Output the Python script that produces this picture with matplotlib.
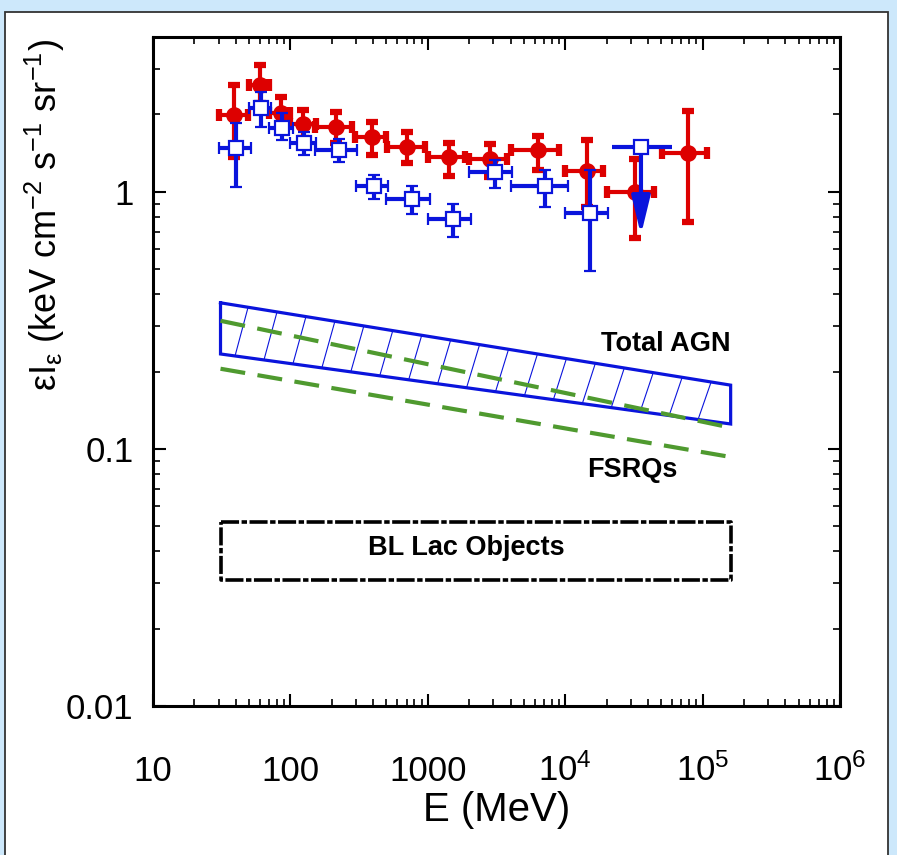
import numpy as np
import matplotlib
matplotlib.use("Agg")
import matplotlib.pyplot as plt
from matplotlib import font_manager
from matplotlib.patches import Rectangle
from matplotlib.ticker import NullFormatter, LogLocator

# ---- EGRET points (red, filled circles) ----
egret_E = [39, 60, 85, 124, 215, 393, 706, 1426, 2836, 6340, 14430, 32200, 78300]
egret_Elo = [30, 50, 70, 100, 150, 295, 505, 1000, 2000, 4030, 10000, 20000, 50700]
egret_Ehi = [49, 70, 99, 153, 280, 496, 954, 1866, 3770, 9020, 18800, 44000, 108000]
egret_I = [1.99, 2.61, 2.03, 1.84, 1.79, 1.64, 1.50, 1.36, 1.34, 1.45, 1.21, 1.00, 1.41]
egret_Ilo = [1.37, 2.22, 1.74, 1.62, 1.55, 1.39, 1.29, 1.15, 1.14, 1.22, 0.875, 0.66, 0.76]
egret_Ihi = [2.61, 3.12, 2.34, 2.08, 2.05, 1.87, 1.71, 1.55, 1.54, 1.65, 1.59, 1.34, 2.07]

# ---- re-analysis points (blue, open squares) ----
strong_E = [40, 61, 87, 126, 226, 405, 767, 1525, 3080, 7130, 15140]
strong_Elo = [30, 50, 70, 100, 150, 300, 500, 1000, 2000, 4030, 10000]
strong_Ehi = [52, 72, 104, 153, 305, 510, 1040, 2070, 4130, 10400, 20500]
strong_I = [1.48, 2.12, 1.77, 1.55, 1.46, 1.05, 0.94, 0.785, 1.19, 1.05, 0.83]
strong_Ilo = [1.04, 1.79, 1.59, 1.39, 1.31, 0.94, 0.82, 0.67, 1.03, 0.875, 0.49]
strong_Ihi = [1.85, 2.45, 2.03, 1.71, 1.61, 1.16, 1.05, 0.90, 1.33, 1.22, 1.22]

# upper limit point
ul_E = [35600]
ul_Elo = [22000]
ul_Ehi = [60000]
ul_I = [1.50]
ul_tip = [0.68]

# ---- model bands ----
band_E = [31, 1.6e5]
agn_hi = [0.370, 0.177]
agn_lo = [0.234, 0.125]
fsrq_hi = [0.315, 0.121]
fsrq_lo = [0.205, 0.093]
bllac_hi = [0.052, 0.052]
bllac_lo = [0.031, 0.031]

xtick_vals = [10, 100, 1000, 1e4, 1e5, 1e6]
xtick_labels = ['10', '100', '1000', '$10^4$', '$10^5$', '$10^6$']
ytick_vals = [0.01, 0.1, 1]
ytick_labels = ['0.01', '0.1', '1']

red = '#dd0000'
blue = '#0a14dc'
green = '#4f9a2f'

names = set(f.name for f in font_manager.fontManager.ttflist)
narrow = 'Liberation Sans Narrow' if 'Liberation Sans Narrow' in names else 'Liberation Sans'
plt.rcParams['font.family'] = [narrow, 'DejaVu Sans']
plt.rcParams['mathtext.fontset'] = 'custom'
plt.rcParams['mathtext.rm'] = narrow
plt.rcParams['mathtext.it'] = narrow

fig = plt.figure(figsize=(8.97, 8.55), dpi=100)
fig.patch.set_facecolor('#cde8fb')
fig.patches.append(Rectangle((5/897, -0.01), 883/897, (855-12)/855 + 0.01,
                             transform=fig.transFigure, facecolor='white',
                             edgecolor='#333333', lw=1.3, zorder=-10))

ax = fig.add_axes([153/897, 1-706/855, 687/897, 669/855])
ax.set_xscale('log')
ax.set_yscale('log')
ax.set_xlim(10, 1e6)
ax.set_ylim(0.01, 4)

# total AGN band + hatching
ax.plot([band_E[0], band_E[1], band_E[1], band_E[0], band_E[0]],
        [agn_hi[0], agn_hi[1], agn_lo[1], agn_lo[0], agn_hi[0]],
        color=blue, lw=2.3, solid_joinstyle='miter')
lx = np.log10(band_E)
for lb in np.linspace(1.597, 4.967, 17):
    lt = lb + 0.095
    yb = 10**np.interp(lb, lx, np.log10(agn_lo))
    yt = 10**np.interp(lt, lx, np.log10(agn_hi))
    ax.plot([10**lb, 10**lt], [yb, yt], color=blue, lw=0.8)

# FSRQ dashed lines
for yy in (fsrq_hi, fsrq_lo):
    ax.plot(band_E, yy, color=green, lw=3, dashes=(6, 3))

# BL Lac box
ax.plot([band_E[0], band_E[1], band_E[1], band_E[0], band_E[0]],
        [bllac_hi[0], bllac_hi[1], bllac_lo[1], bllac_lo[0], bllac_hi[0]],
        color='black', lw=2.6, linestyle=(0, (5, 0.7, 1.5, 0.7)))

# data points
E = np.array(egret_E); I = np.array(egret_I)
ax.errorbar(E, I, xerr=[E - np.array(egret_Elo), np.array(egret_Ehi) - E],
            yerr=[I - np.array(egret_Ilo), np.array(egret_Ihi) - I],
            fmt='o', color=red, ms=11, elinewidth=3, capsize=4, capthick=4.5, zorder=3)

E = np.array(strong_E); I = np.array(strong_I)
ax.errorbar(E, I, xerr=[E - np.array(strong_Elo), np.array(strong_Ehi) - E],
            yerr=[I - np.array(strong_Ilo), np.array(strong_Ihi) - I],
            fmt='s', color=blue, mfc='white', mec=blue, mew=1.6, ms=10.5,
            elinewidth=3, capsize=4, capthick=4.5, zorder=4)

E = np.array(ul_E); I = np.array(ul_I)
ax.errorbar(E, I, xerr=[E - np.array(ul_Elo), np.array(ul_Ehi) - E],
            fmt='none', ecolor=blue, elinewidth=3, capsize=0, zorder=4)
ax.annotate('', xy=(ul_E[0], ul_tip[0]), xytext=(ul_E[0], ul_I[0]),
            arrowprops=dict(arrowstyle='-|>,head_length=1.15,head_width=0.28',
                            mutation_scale=20, color=blue, lw=3,
                            shrinkA=0, shrinkB=0), zorder=4)
ax.plot(ul_E, ul_I, 's', mfc='white', mec=blue, mew=1.6, ms=10.5, zorder=5)

# labels inside
ax.text(1.6e5, 0.256, 'Total AGN', ha='right', va='center', fontsize=19.5, weight='bold')
ax.text(3.06e4, 0.0828, 'FSRQs', ha='center', va='center', fontsize=19.5, weight='bold')
ax.text(1900, 0.0412, 'BL Lac Objects', ha='center', va='center', fontsize=19.5, weight='bold')

# axes styling
for s in ax.spines.values():
    s.set_linewidth(2.2)
ax.set_xticks(xtick_vals, xtick_labels)
ax.set_yticks(ytick_vals, ytick_labels)
ax.xaxis.set_minor_locator(LogLocator(base=10, subs=np.arange(2, 10), numticks=20))
ax.yaxis.set_minor_locator(LogLocator(base=10, subs=np.arange(2, 10), numticks=20))
ax.xaxis.set_minor_formatter(NullFormatter())
ax.yaxis.set_minor_formatter(NullFormatter())
ax.tick_params(which='both', direction='in', top=True, right=True)
ax.tick_params(which='major', length=9, width=1.5, labelsize=25)
ax.tick_params(which='minor', length=5, width=1.2)
ax.tick_params(axis='x', pad=54)
ax.tick_params(axis='y', pad=14)
for lbl in ax.get_xticklabels():
    lbl.set_verticalalignment('baseline')

ax.set_xlabel('E (MeV)', fontsize=29, va='center')
ax.xaxis.set_label_coords(0.5, -0.156)
ax.set_ylabel('εI$_{ε}$ (keV cm$^{-2}$ s$^{-1}$ sr$^{-1}$)', fontsize=26,
              family=['Liberation Sans', 'DejaVu Sans'], va='center', ha='center')
ax.yaxis.set_label_coords(-0.157, 0.734)

fig.savefig('out.png', dpi=100)
